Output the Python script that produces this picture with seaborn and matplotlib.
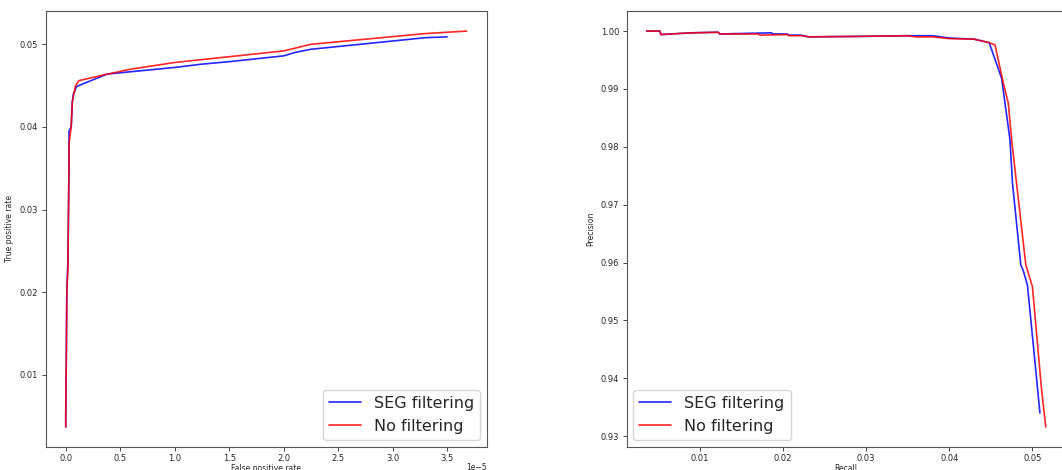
import matplotlib
matplotlib.use("Agg")
import matplotlib.pyplot as plt
import seaborn as sns
import pandas as pd

# ROC curves (false positive rate in units of 1e-5, true positive rate)
seg_fpr = [0.0, 0.0, 0.005, 0.01, 0.02, 0.03, 0.03, 0.03, 0.05, 0.06, 0.07, 0.10,
           0.38, 1.0, 1.25, 1.5, 2.0, 2.1, 2.25, 3.3, 3.5]
seg_tpr = [0.0037, 0.005, 0.012, 0.020, 0.024, 0.035, 0.038, 0.0395, 0.040, 0.043, 0.044, 0.0449,
           0.0464, 0.0472, 0.0476, 0.0479, 0.0486, 0.0490, 0.0494, 0.0508, 0.0509]
nof_fpr = [0.0, 0.0, 0.005, 0.01, 0.02, 0.03, 0.03, 0.05, 0.06, 0.09, 0.12,
           0.35, 0.6, 1.0, 1.5, 2.0, 2.25, 3.3, 3.68]
nof_tpr = [0.0037, 0.005, 0.012, 0.020, 0.023, 0.036, 0.038, 0.040, 0.043, 0.045, 0.0456,
           0.0463, 0.0470, 0.0478, 0.0485, 0.0492, 0.0500, 0.0513, 0.0516]

# precision / recall curves
seg_recall = [0.0036, 0.0052, 0.0053, 0.009, 0.0122, 0.0124, 0.0186, 0.0188, 0.0205, 0.0207,
              0.0222, 0.0231, 0.030, 0.035, 0.038, 0.040, 0.043, 0.0448,
              0.0463, 0.0473, 0.0476, 0.0486, 0.0489, 0.0494, 0.0509]
seg_precision = [1.0, 1.0, 0.9994, 0.9997, 0.9998, 0.9995, 0.9997, 0.9995, 0.9995, 0.9993,
                 0.9993, 0.9990, 0.9991, 0.9992, 0.9992, 0.9988, 0.9986, 0.9980,
                 0.9918, 0.9812, 0.9737, 0.9596, 0.9586, 0.9561, 0.9340]
nof_recall = [0.0036, 0.0052, 0.0053, 0.009, 0.0122, 0.0124, 0.0170, 0.0172, 0.0205, 0.0207,
              0.0222, 0.0231, 0.030, 0.035, 0.036, 0.038, 0.040, 0.043, 0.0448,
              0.0455, 0.0465, 0.0471, 0.0475, 0.0492, 0.0500, 0.0511, 0.0516]
nof_precision = [1.0, 1.0, 0.9994, 0.9997, 0.9998, 0.9995, 0.9995, 0.9993, 0.9994, 0.9992,
                 0.9992, 0.9990, 0.9991, 0.9992, 0.9990, 0.9990, 0.9987, 0.9986, 0.9980,
                 0.9976, 0.9910, 0.9875, 0.9812, 0.9596, 0.9558, 0.9380, 0.9316]

labels = ["SEG filtering", "No filtering"]
colors = {"SEG filtering": "blue", "No filtering": "red"}

roc = pd.concat([
    pd.DataFrame({"fpr": seg_fpr, "tpr": seg_tpr, "method": labels[0]}),
    pd.DataFrame({"fpr": nof_fpr, "tpr": nof_tpr, "method": labels[1]}),
])
roc["fpr"] = roc["fpr"] * 1e-5
pr = pd.concat([
    pd.DataFrame({"recall": seg_recall, "precision": seg_precision, "method": labels[0]}),
    pd.DataFrame({"recall": nof_recall, "precision": nof_precision, "method": labels[1]}),
])

sns.set_style("ticks")
plt.rcParams["font.family"] = ["DejaVu Sans"]

fig = plt.figure(figsize=(10.62, 4.70), dpi=100)
ax1 = fig.add_axes([45.7 / 1062, 23.3 / 470, 441 / 1062, 435.4 / 470])
ax2 = fig.add_axes([626.7 / 1062, 23.3 / 470, 439 / 1062, 435.4 / 470])

sns.lineplot(data=roc, x="fpr", y="tpr", hue="method", palette=colors, sort=False,
             estimator=None, linewidth=1.2, alpha=0.85, ax=ax1)
sns.lineplot(data=pr, x="recall", y="precision", hue="method", palette=colors, sort=False,
             estimator=None, linewidth=1.2, alpha=0.85, ax=ax2)

ax1.set_xlabel("False positive rate", fontsize=5.5)
ax1.set_ylabel("True positive rate", fontsize=5.5)
ax2.set_xlabel("Recall", fontsize=5.5)
ax2.set_ylabel("Precision", fontsize=5.5)
ax1.set_yticks([0.01, 0.02, 0.03, 0.04, 0.05])
ax2.set_xticks([0.01, 0.02, 0.03, 0.04, 0.05])

for ax in (ax1, ax2):
    ax.tick_params(labelsize=6, length=3, width=0.6, pad=2.5)
    for s in ax.spines.values():
        s.set_linewidth(0.8)
        s.set_color("#555555")
    ax.xaxis.labelpad = 0.5

# scale factor of the fpr axis, placed where the reference shows it
ax1.xaxis.get_offset_text().set_visible(False)
ax1.text(1.0, -0.037, "1e\u22125", transform=ax1.transAxes, ha="right", va="top",
         fontsize=5.5, color=".15")

ax1.legend(loc="lower right", fontsize=11.5, title=None, borderaxespad=0.4)
ax2.legend(loc="lower left", fontsize=11.5, title=None, borderaxespad=0.4)

fig.savefig("out.png", dpi=100)
